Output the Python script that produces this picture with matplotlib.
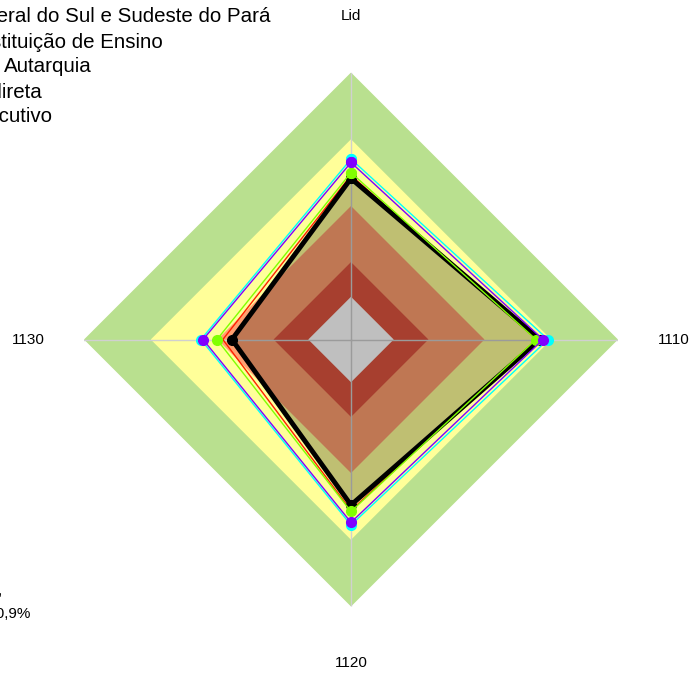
import numpy as np
import matplotlib.pyplot as plt

plt.rcParams['font.family'] = ['Liberation Sans', 'DejaVu Sans']

# ---- data ----
axis_labels = ['Lid', '1110', '1120', '1130']
band_levels = [100, 75, 50, 29, 16]
band_colors = ['#b9e08f', '#ffff99', '#ffa070', '#e05540', '#ffffff']

series_names = ['Universidade Federal do Sul e Sudeste do Pará',
                'Instituição de Ensino', 'Autarquia',
                'Administração Indireta', 'Poder Executivo']
unifesspa = [60.3, 70.8, 62.0, 44.6]
ensino = [61.5, 69.5, 64.0, 48.0]
autarquia = [62.5, 69.3, 64.4, 50.2]
indireta = [66.3, 71.9, 68.5, 55.4]
executivo = [67.6, 73.8, 69.5, 56.2]
legend_right_px = [270, 163, 92, 42, 52]

W, H = 695, 675
fig = plt.figure(figsize=(W / 100, H / 100), dpi=100)
cx, cy, R = 351, 339.5, 267
ax = fig.add_axes([(cx - R) / W, (H - cy - R) / H, 2 * R / W, 2 * R / H],
                  projection='polar')
ax.set_theta_zero_location('N')
ax.set_theta_direction(-1)
ax.set_ylim(0, 100)
ax.set_axis_off()

theta = np.arange(len(axis_labels)) * 2 * np.pi / len(axis_labels)
tc = np.append(theta, theta[0])


def closed(v):
    return np.append(v, v[0])


for lvl, col in zip(band_levels, band_colors):
    ax.fill(tc, [lvl] * len(tc), color=col, lw=0, zorder=1)

for t in theta:
    ax.plot([t, t], [0, 100], color='#d0d0d0', lw=1, zorder=2)

ax.fill(tc, closed(unifesspa), color='black', alpha=0.25, lw=0, zorder=3)

ax.plot(tc, closed(executivo), color='#00ffff', lw=1, marker='o', ms=7, zorder=5)
ax.plot(tc, closed(indireta), color='#8000ff', lw=1, marker='o', ms=7, zorder=7)
ax.plot(tc, closed(autarquia), color='#80ff00', lw=1, marker='o', ms=7, zorder=6)
ax.plot(tc, closed(ensino), color='#ff2000', lw=1, zorder=4)
ax.plot(tc, closed(unifesspa), color='black', lw=3.5, marker='o', ms=7, zorder=4.5)

for t, lab in zip(theta, axis_labels):
    ax.text(t, 121, lab, ha='center', va='center', fontsize=11, clip_on=False)

for i, (name, xr) in enumerate(zip(series_names, legend_right_px)):
    fig.text(xr / W, 1 - (17 + 25 * i) / H, name, ha='right', va='center',
             fontsize=14.8)

fig.text(2 / W, 1 - 591 / H, 'Pontuação geral,', ha='right', va='center', fontsize=11)
fig.text(30 / W, 1 - 614 / H, 'iGG: 60,9%', ha='right', va='center', fontsize=11)

fig.savefig('out.png', dpi=100)
